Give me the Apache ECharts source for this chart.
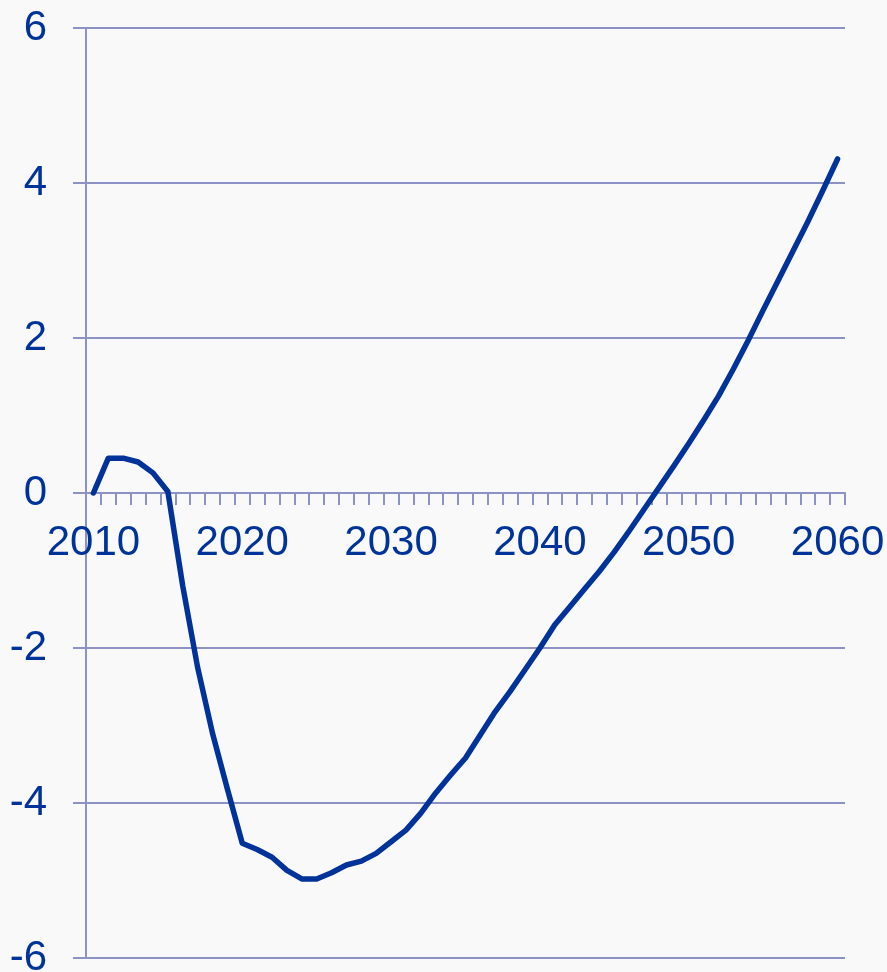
<!DOCTYPE html>
<html>
<head>
<meta charset="utf-8">
<script src="https://cdn.jsdelivr.net/npm/echarts@6/dist/echarts.min.js"></script>
<style>
  html, body { margin: 0; padding: 0; background: #f9f9f9; }
  #chart { width: 887px; height: 972px; }
</style>
</head>
<body>
<div id="chart"></div>
<script>
// years 2010..2060
const years = [];
for (let y = 2010; y <= 2060; y++) years.push(String(y));

// values, one per year
const values = [
  0.00, 0.45, 0.45, 0.40, 0.26, 0.02, -1.20, -2.25, -3.10, -3.82,  // 2010-2019
  -4.52, -4.60, -4.70, -4.87, -4.98, -4.98, -4.90, -4.80, -4.75, -4.65, // 2020-2029
  -4.50, -4.35, -4.13, -3.87, -3.64, -3.42, -3.12, -2.82, -2.56, -2.28, // 2030-2039
  -2.00, -1.70, -1.47, -1.24, -1.01, -0.76, -0.49, -0.21, 0.07, 0.35,   // 2040-2049
  0.64, 0.94, 1.25, 1.60, 1.97, 2.36, 2.74, 3.12, 3.50, 3.90,           // 2050-2059
  4.31                                                                  // 2060
];

const yTicks = [-6, -4, -2, 0, 2, 4, 6];

const lineColor = '#003399';
const axisColor = '#8c92c4';
const textColor = '#003399';

const gridTop = 28, gridBottom = 14, chartH = 972;
// put the category axis on the zero line (labels included)
const zeroOffset = -(chartH - gridTop - gridBottom) / 2;

const chart = echarts.init(document.getElementById('chart'));
chart.setOption({
  backgroundColor: '#f9f9f9',
  animation: false,
  grid: { left: 86, right: 42, top: gridTop, bottom: gridBottom, outerBoundsMode: 'none', containLabel: false },
  xAxis: {
    type: 'category',
    data: years,
    boundaryGap: true,
    position: 'bottom',
    offset: zeroOffset,
    axisLine: { show: true, onZero: false, lineStyle: { color: axisColor, width: 2 } },
    axisTick: { show: true, interval: 0, length: 12, lineStyle: { color: axisColor, width: 2 } },
    axisLabel: {
      interval: 9,
      margin: 29,
      color: textColor,
      fontSize: 42,
      fontFamily: 'Liberation Sans, Arial, sans-serif'
    },
    splitLine: { show: false }
  },
  yAxis: {
    type: 'value',
    min: yTicks[0],
    max: yTicks[yTicks.length - 1],
    interval: 2,
    axisLine: { show: true, lineStyle: { color: axisColor, width: 2 } },
    axisTick: { show: true, length: 13, lineStyle: { color: axisColor, width: 2 } },
    axisLabel: {
      margin: 39,
      color: textColor,
      fontSize: 42,
      fontFamily: 'Liberation Sans, Arial, sans-serif'
    },
    splitLine: { show: true, lineStyle: { color: axisColor, width: 2 } }
  },
  series: [{
    type: 'line',
    data: values,
    symbol: 'none',
    smooth: false,
    lineStyle: { color: lineColor, width: 5.5, cap: 'round', join: 'round' }
  }]
});
</script>
</body>
</html>
